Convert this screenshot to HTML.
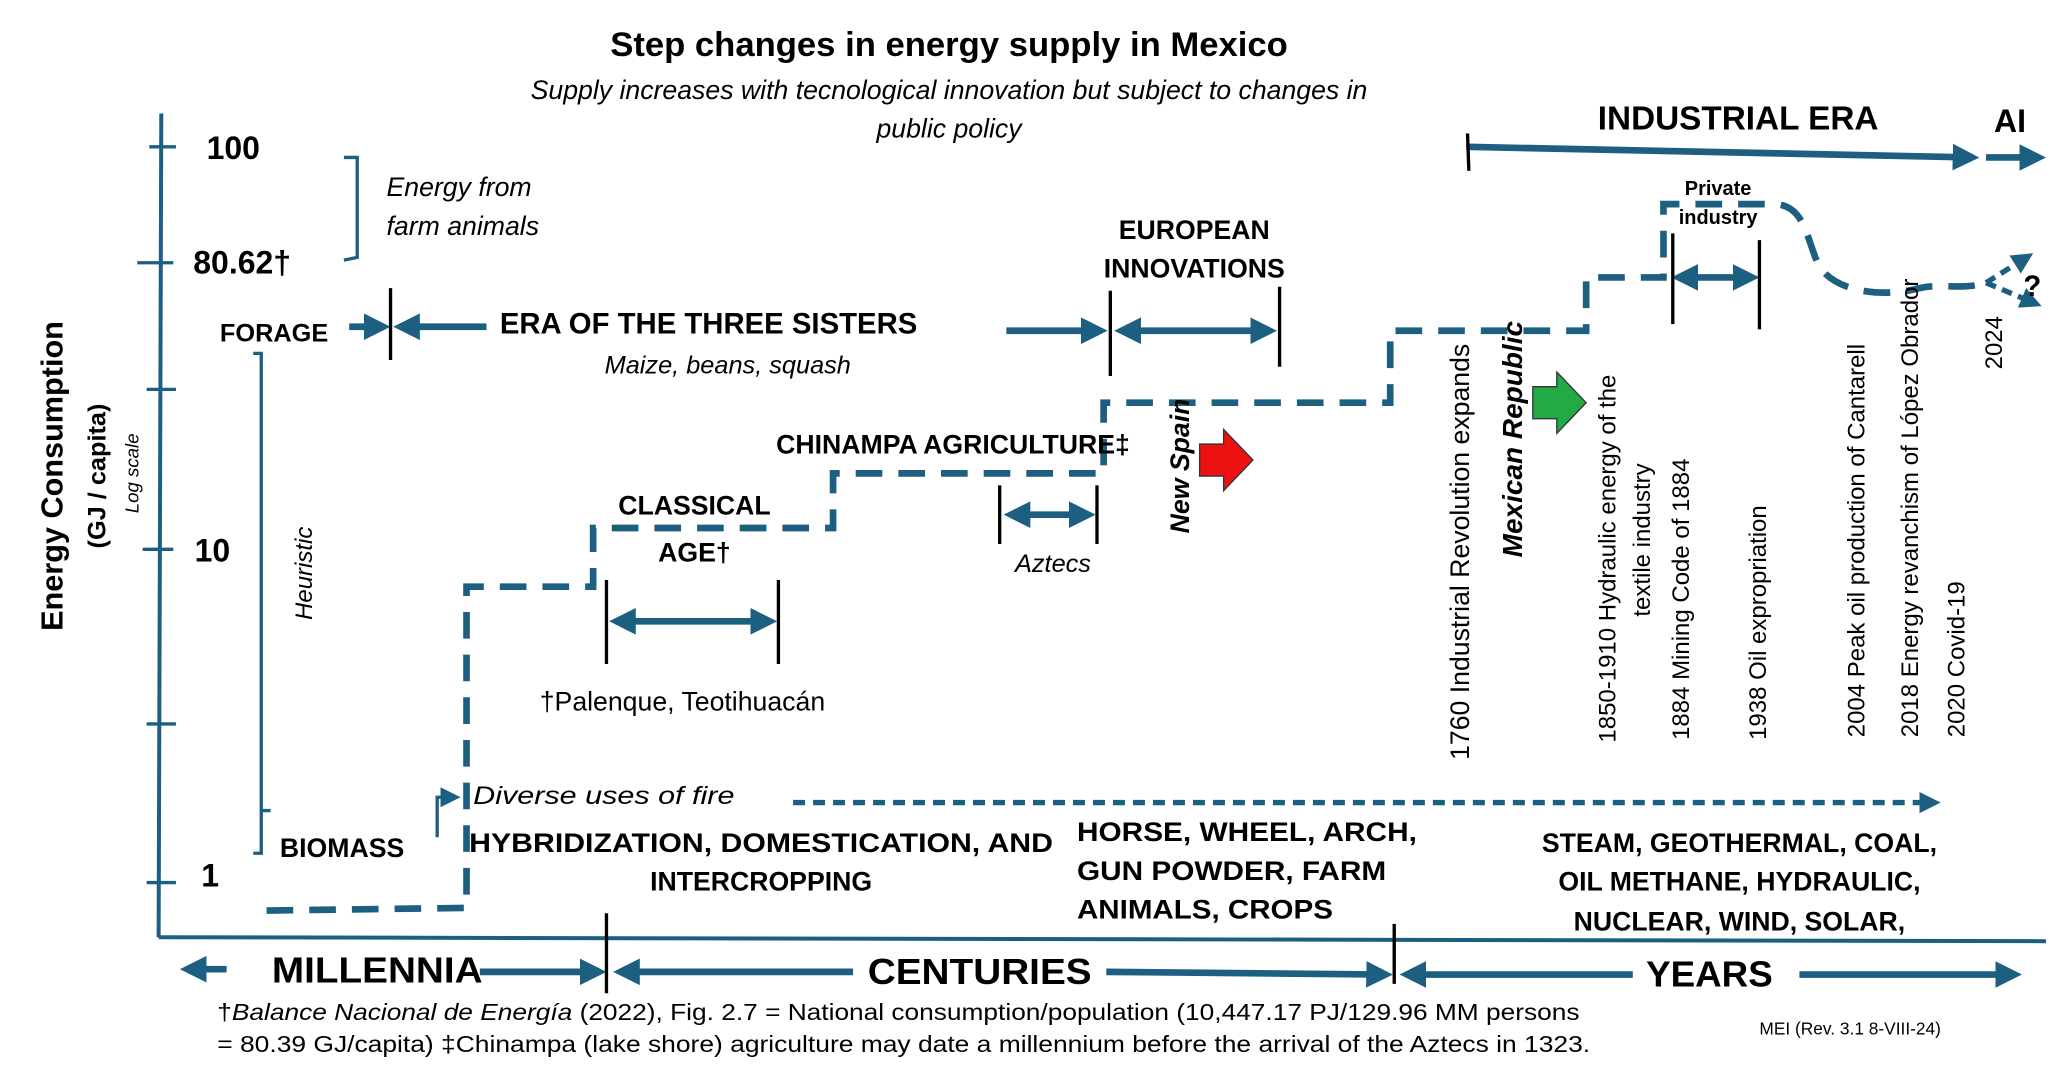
<!DOCTYPE html>
<html><head><meta charset="utf-8"><style>
html,body{margin:0;padding:0;background:#fff;}
svg{display:block;}
text{font-family:"Liberation Sans",sans-serif;fill:#000;}
.b{font-weight:bold;}
.i{font-style:italic;}
</style></head><body>
<svg width="2070" height="1084" viewBox="0 0 1553 813" xmlns="http://www.w3.org/2000/svg">
<defs>
<marker id="a" markerWidth="4" markerHeight="4" refX="3" refY="2" orient="auto-start-reverse" markerUnits="strokeWidth"><path d="M0,0 L4,2 L0,4 Z" fill="#1d5f80"/></marker>
<marker id="s" markerWidth="6" markerHeight="6" refX="5" refY="3" orient="auto" markerUnits="strokeWidth"><path d="M0,0 L6,3 L0,6 Z" fill="#1d5f80"/></marker>
</defs>
<g stroke="#1d5f80" fill="none">
<line x1="121" y1="85" x2="119" y2="703" stroke-width="3"/>
<line x1="119" y1="703" x2="1535" y2="706" stroke-width="3"/>
<g stroke-width="2.5">
<line x1="112" y1="110" x2="132" y2="110"/><line x1="103" y1="197" x2="130" y2="197"/>
<line x1="110" y1="292" x2="132" y2="292"/><line x1="107" y1="412" x2="130" y2="412"/>
<line x1="110" y1="543" x2="132" y2="543"/><line x1="110" y1="662" x2="132" y2="662"/>
</g>
<path d="M258,118 L268,118 L268,193 L258,195" stroke-width="2.5"/>
<path d="M190,265 L196,265 L196,640 L190,640 M196,608 L203,608" stroke-width="2.5"/>
<path d="M200,683 L350,681 L350,440 L445,440 L445,396 L625,396 L625,355 L828,355 L828,302 L1043,302 L1043,248 L1190,248 L1190,208 L1248,208 L1248,153 L1330,153 C1355,153 1355,180 1365,200 C1380,222 1420,222 1440,216 C1460,212 1470,218 1490,212" stroke-width="5" stroke-dasharray="20,12"/>
<path d="M1490,212 L1522,192" stroke-width="4" stroke-dasharray="8,5" marker-end="url(#a)"/>
<path d="M1490,212 L1528,228" stroke-width="4" stroke-dasharray="8,5" marker-end="url(#a)"/>
<path d="M328,628 L328,598 L343,598" stroke-width="2.5" marker-end="url(#s)"/>
<path d="M595,602 L1452,602" stroke-width="4" stroke-dasharray="9,6" marker-end="url(#a)"/>
<g stroke-width="5">
<line x1="262" y1="245" x2="288" y2="245" marker-end="url(#a)"/>
<line x1="365" y1="245" x2="300" y2="245" marker-end="url(#a)"/>
<line x1="755" y1="248" x2="826" y2="248" marker-end="url(#a)"/>
<line x1="841" y1="248" x2="953" y2="248" marker-start="url(#a)" marker-end="url(#a)"/>
<line x1="462" y1="466" x2="578" y2="466" marker-start="url(#a)" marker-end="url(#a)"/>
<line x1="758" y1="386" x2="817" y2="386" marker-start="url(#a)" marker-end="url(#a)"/>
<line x1="1259" y1="208" x2="1315" y2="208" marker-start="url(#a)" marker-end="url(#a)"/>
<line x1="1100" y1="110" x2="1480" y2="118" marker-end="url(#a)"/>
<line x1="1490" y1="118" x2="1530" y2="118" marker-end="url(#a)"/>
<line x1="170" y1="727" x2="140" y2="727" marker-end="url(#a)"/>
<line x1="360" y1="729" x2="450" y2="729" marker-end="url(#a)"/>
<line x1="640" y1="729" x2="465" y2="729" marker-end="url(#a)"/>
<line x1="830" y1="729" x2="1040" y2="731" marker-end="url(#a)"/>
<line x1="1225" y1="731" x2="1055" y2="731" marker-end="url(#a)"/>
<line x1="1350" y1="731" x2="1512" y2="731" marker-end="url(#a)"/>
</g>
</g>
<g stroke="#000" stroke-width="2.5">
<line x1="293" y1="216" x2="293" y2="270"/>
<line x1="833" y1="218" x2="833" y2="282"/><line x1="960" y1="215" x2="960" y2="275"/>
<line x1="455" y1="435" x2="455" y2="498"/><line x1="584" y1="435" x2="584" y2="498"/>
<line x1="750" y1="364" x2="750" y2="408"/><line x1="823" y1="364" x2="823" y2="408"/>
<line x1="1255" y1="175" x2="1255" y2="243"/><line x1="1320" y1="180" x2="1320" y2="247"/>
<line x1="1101" y1="100" x2="1102" y2="128"/>
<line x1="455" y1="685" x2="455" y2="745"/><line x1="1046" y1="693" x2="1046" y2="738"/>
</g>
<path d="M900,333 L918,333 L918,322 L940,345 L918,368 L918,357 L900,357 Z" fill="#ee1111" stroke="#333" stroke-width="1"/>
<path d="M1150,290 L1168,290 L1168,279 L1190,302 L1168,325 L1168,314 L1150,314 Z" fill="#22aa44" stroke="#333" stroke-width="1"/>
<text x="712" y="42" font-size="26" class="b" text-anchor="middle">Step changes in energy supply in Mexico</text>
<text x="712" y="74" font-size="20" class="i" text-anchor="middle">Supply increases with tecnological innovation but subject to changes in</text>
<text x="712" y="103" font-size="20" class="i" text-anchor="middle">public policy</text>
<text x="155" y="119" font-size="24" class="b">100</text>
<text x="145" y="205" font-size="24" class="b">80.62†</text>
<text x="146" y="421" font-size="24" class="b">10</text>
<text x="151" y="665" font-size="24" class="b">1</text>
<text x="290" y="147" font-size="20" class="i">Energy from</text>
<text x="290" y="176" font-size="20" class="i">farm animals</text>
<text transform="translate(47,357) rotate(-90)" font-size="23" class="b" text-anchor="middle">Energy Consumption</text>
<text transform="translate(79,357) rotate(-90)" font-size="19" class="b" text-anchor="middle">(GJ / capita)</text>
<text transform="translate(104,355) rotate(-90)" font-size="14" class="i" text-anchor="middle">Log scale</text>
<text transform="translate(234,430) rotate(-90)" font-size="18" class="i" text-anchor="middle">Heuristic</text>
<text x="165" y="256" font-size="19" class="b">FORAGE</text>
<text x="375" y="250" font-size="22" class="b">ERA OF THE THREE SISTERS</text>
<text x="546" y="280" font-size="19" class="i" text-anchor="middle">Maize, beans, squash</text>
<text x="896" y="179" font-size="20" class="b" text-anchor="middle">EUROPEAN</text>
<text x="896" y="208" font-size="20" class="b" text-anchor="middle">INNOVATIONS</text>
<text x="1304" y="97" font-size="25" class="b" text-anchor="middle">INDUSTRIAL ERA</text>
<text x="1508" y="99" font-size="24" class="b" text-anchor="middle">AI</text>
<text x="1289" y="146" font-size="15" class="b" text-anchor="middle">Private</text>
<text x="1289" y="168" font-size="15" class="b" text-anchor="middle">industry</text>
<text x="1518" y="222" font-size="22" class="b">?</text>
<text x="715" y="340" font-size="20" class="b" text-anchor="middle">CHINAMPA AGRICULTURE‡</text>
<text x="521" y="386" font-size="20" class="b" text-anchor="middle">CLASSICAL</text>
<text x="521" y="421" font-size="20" class="b" text-anchor="middle">AGE†</text>
<text x="790" y="429" font-size="19" class="i" text-anchor="middle">Aztecs</text>
<text x="512" y="533" font-size="20" text-anchor="middle">†Palenque, Teotihuacán</text>
<text x="355" y="603" font-size="19" class="i" textLength="196" lengthAdjust="spacingAndGlyphs">Diverse uses of fire</text>
<text x="210" y="643" font-size="20" class="b">BIOMASS</text>
<text x="352" y="639" font-size="20" class="b" textLength="438" lengthAdjust="spacingAndGlyphs">HYBRIDIZATION, DOMESTICATION, AND</text>
<text x="571" y="668" font-size="20" class="b" text-anchor="middle">INTERCROPPING</text>
<text x="808" y="631" font-size="20" class="b" textLength="255" lengthAdjust="spacingAndGlyphs">HORSE, WHEEL, ARCH,</text>
<text x="808" y="660" font-size="20" class="b" textLength="232" lengthAdjust="spacingAndGlyphs">GUN POWDER, FARM</text>
<text x="808" y="689" font-size="20" class="b" textLength="192" lengthAdjust="spacingAndGlyphs">ANIMALS, CROPS</text>
<text x="1305" y="639" font-size="20" class="b" text-anchor="middle">STEAM, GEOTHERMAL,  COAL,</text>
<text x="1305" y="668" font-size="20" class="b" text-anchor="middle">OIL  METHANE, HYDRAULIC,</text>
<text x="1305" y="698" font-size="20" class="b" text-anchor="middle">NUCLEAR, WIND, SOLAR,</text>
<text x="204" y="737" font-size="27" class="b" textLength="158" lengthAdjust="spacingAndGlyphs">MILLENNIA</text>
<text x="651" y="738" font-size="27" class="b" textLength="168" lengthAdjust="spacingAndGlyphs">CENTURIES</text>
<text x="1235" y="740" font-size="27" class="b" textLength="95" lengthAdjust="spacingAndGlyphs">YEARS</text>
<text x="163" y="765" font-size="17" textLength="1022" lengthAdjust="spacingAndGlyphs">†<tspan class="i">Balance Nacional de Energía</tspan> (2022), Fig. 2.7 = National consumption/population (10,447.17 PJ/129.96 MM persons</text>
<text x="163" y="789" font-size="17" textLength="1030" lengthAdjust="spacingAndGlyphs">= 80.39 GJ/capita) ‡Chinampa  (lake shore) agriculture may date a millennium before the arrival of the Aztecs in 1323.</text>
<text x="1320" y="776" font-size="13">MEI (Rev. 3.1  8-VIII-24)</text>
<g font-size="18">
<text transform="translate(892,400) rotate(-90)" class="b i" font-size="20">New Spain</text>
<text transform="translate(1102,570) rotate(-90)" font-size="20">1760  Industrial Revolution expands</text>
<text transform="translate(1142,418) rotate(-90)" class="b i" font-size="21">Mexican Republic</text>
<text transform="translate(1212,557) rotate(-90)">1850-1910  Hydraulic energy of the</text>
<text transform="translate(1238,405) rotate(-90)" text-anchor="middle">textile industry</text>
<text transform="translate(1267,555) rotate(-90)">1884 Mining Code of 1884</text>
<text transform="translate(1325,555) rotate(-90)">1938 Oil expropriation</text>
<text transform="translate(1399,553) rotate(-90)">2004 Peak oil production of Cantarell</text>
<text transform="translate(1439,553) rotate(-90)">2018 Energy revanchism of López Obrador</text>
<text transform="translate(1474,553) rotate(-90)">2020 Covid-19</text>
<text transform="translate(1502,277) rotate(-90)">2024</text>
</g>
</svg>
</body></html>
